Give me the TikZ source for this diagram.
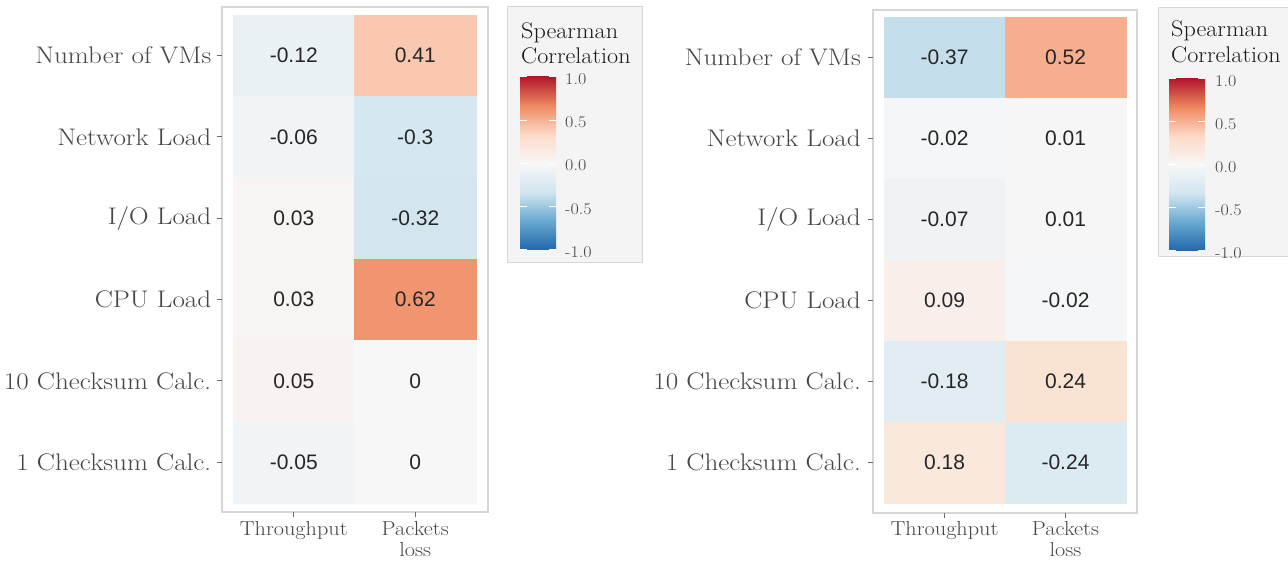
\documentclass[tikz,border=0pt]{standalone}
\usepackage{fontspec}
\newfontfamily\numfont{Liberation Sans}

% RdBu diverging palette (7 stops)
\definecolor{n3}{HTML}{2166AC}
\definecolor{n2}{HTML}{67A9CF}
\definecolor{n1}{HTML}{D1E5F0}
\definecolor{c0}{HTML}{F7F7F7}
\definecolor{p1}{HTML}{FDDBC7}
\definecolor{p2}{HTML}{EF8A62}
\definecolor{p3}{HTML}{B2182B}
\definecolor{axisgray}{HTML}{454545}
\definecolor{framegray}{HTML}{D6D6D6}
\definecolor{legendbg}{HTML}{F4F4F4}
\definecolor{cellink}{HTML}{262626}
\definecolor{titleink}{HTML}{1A1A1A}

% \corrfill{colour name}{value}: colour of a correlation value on the RdBu scale
\newcommand\corrfill[2]{%
  \pgfmathsetmacro\corrAbs{abs(#2)*3}%
  \ifdim #2pt<0pt \def\corrSide{n}\else\def\corrSide{p}\fi
  \ifdim\corrAbs pt<1pt
    \pgfmathsetmacro\corrPct{\corrAbs*100}%
    \colorlet{#1}{\corrSide1!\corrPct!c0}%
  \else\ifdim\corrAbs pt<2pt
    \pgfmathsetmacro\corrPct{(\corrAbs-1)*100}%
    \colorlet{#1}{\corrSide2!\corrPct!\corrSide1}%
  \else
    \pgfmathsetmacro\corrPct{(\corrAbs-2)*100}%
    \colorlet{#1}{\corrSide3!\corrPct!\corrSide2}%
  \fi\fi}

\pgfdeclareverticalshading{corrbar}{100bp}{color(0bp)=(n3); color(25bp)=(n3);
  color(33.333bp)=(n2); color(41.667bp)=(n1); color(50bp)=(c0);
  color(58.333bp)=(p1); color(66.667bp)=(p2); color(75bp)=(p3); color(100bp)=(p3)}

\tikzset{
  cell/.style={inner sep=0pt, outer sep=0pt, line width=0.6pt,
    font=\numfont\fontsize{21}{24}\selectfont, text=cellink},
  rowlabel/.style={anchor=east, inner sep=0pt, text=axisgray, xscale=1.13,
    font=\fontsize{24}{28}\selectfont},
  collabel/.style={anchor=base, inner sep=0pt, text=axisgray, xscale=1.1,
    font=\fontsize{20.2}{24}\selectfont},
  axistick/.style={draw=axisgray!80, line width=1pt},
  panelframe/.style={draw=framegray, line width=1.2pt},
  legendbox/.style={draw=framegray, fill=legendbg, line width=1pt},
  legendtitle/.style={anchor=base west, inner sep=0pt, text=titleink, xscale=1.07,
    font=\fontsize{22.6}{25}\selectfont},
  legendlabel/.style={anchor=west, inner sep=0pt, text=axisgray, xscale=1.1,
    font=\fontsize{16.4}{19}\selectfont},
  bartick/.style={draw=white, line width=1pt},
}

\begin{document}
\begin{tikzpicture}[x=1pt,y=-1pt]
\useasboundingbox (0,0) rectangle (1288,561);
\fill[white] (0,0) rectangle (1288,561);

% ---------- left heatmap ----------
\draw[panelframe] (222,7) rectangle (488,512);
\foreach \r/\u/\v/\lab in {1/-0.12/0.41/{Number of VMs}, 2/-0.06/-0.3/{Network Load},
    3/0.03/-0.32/{I/O Load}, 4/0.03/0.62/{CPU Load},
    5/0.05/0/{10 Checksum Calc.}, 6/-0.05/0/{1 Checksum Calc.}} {
  \pgfmathsetmacro\yc{15+81.333*(\r-0.5)}
  \corrfill{cu}{\u}\corrfill{cv}{\v}
  \node[cell, minimum width=121.5pt, minimum height=81.333pt, fill=cu, draw=cu]
    (L\r-t) at (293.75,\yc) {\u};
  \node[cell, minimum width=121.5pt, minimum height=81.333pt, fill=cv, draw=cv]
    (L\r-p) at (415.25,\yc) {\v};
  \draw[axistick] (217,\yc) -- (222,\yc);
  \node[rowlabel] (L\r-y) at (211.5,\yc) {\lab};
}
\draw[axistick] (293.75,512) -- (293.75,517);
\draw[axistick] (415.25,512) -- (415.25,517);
\node[collabel] (Lx1) at (293.75,535) {Throughput};
\node[collabel] (Lx2) at (415.25,535) {Packets};
\node[collabel] (Lx3) at (415.25,556) {loss};

% left legend
\draw[legendbox] (507,7) rectangle (642,263);
\node[legendtitle] (LT1) at (521,39) {Spearman};
\node[legendtitle] (LT2) at (521,64) {Correlation};
\shade[shading=corrbar] (520,77) rectangle (556,250);
\foreach \v/\t in {1/1.0, 0.5/0.5, 0/0.0, -0.5/-0.5, -1/-1.0} {
  \pgfmathsetmacro\yb{163.5-86.5*\v}
  \draw[bartick] (520,\yb) -- (527,\yb) (549,\yb) -- (556,\yb);
  \node[legendlabel] at (565,\yb+2) {\t};
}

% ---------- right heatmap ----------
\draw[panelframe] (873,10) rectangle (1137,513);
\foreach \r/\u/\v/\lab in {1/-0.37/0.52/{Number of VMs}, 2/-0.02/0.01/{Network Load},
    3/-0.07/0.01/{I/O Load}, 4/0.09/-0.02/{CPU Load},
    5/-0.18/0.24/{10 Checksum Calc.}, 6/0.18/-0.24/{1 Checksum Calc.}} {
  \pgfmathsetmacro\yc{17+81*(\r-0.5)}
  \corrfill{cu}{\u}\corrfill{cv}{\v}
  \node[cell, minimum width=121pt, minimum height=81pt, fill=cu, draw=cu]
    (R\r-t) at (944.5,\yc) {\u};
  \node[cell, minimum width=121pt, minimum height=81pt, fill=cv, draw=cv]
    (R\r-p) at (1065.5,\yc) {\v};
  \draw[axistick] (868,\yc) -- (873,\yc);
  \node[rowlabel] (R\r-y) at (861,\yc) {\lab};
}
\draw[axistick] (944.5,513) -- (944.5,518);
\draw[axistick] (1065.5,513) -- (1065.5,518);
\node[collabel] (Rx1) at (944.5,535) {Throughput};
\node[collabel] (Rx2) at (1065.5,535) {Packets};
\node[collabel] (Rx3) at (1065.5,556) {loss};

% right legend
\draw[legendbox] (1158,8) rectangle (1300,257);
\node[legendtitle] (RT1) at (1171,37) {Spearman};
\node[legendtitle] (RT2) at (1171,63) {Correlation};
\shade[shading=corrbar] (1169,79) rectangle (1205,251);
\foreach \v/\t in {1/1.0, 0.5/0.5, 0/0.0, -0.5/-0.5, -1/-1.0} {
  \pgfmathsetmacro\yb{165-86*\v}
  \draw[bartick] (1169,\yb) -- (1176,\yb) (1198,\yb) -- (1205,\yb);
  \node[legendlabel] at (1215,\yb+2) {\t};
}
\end{tikzpicture}
\end{document}
